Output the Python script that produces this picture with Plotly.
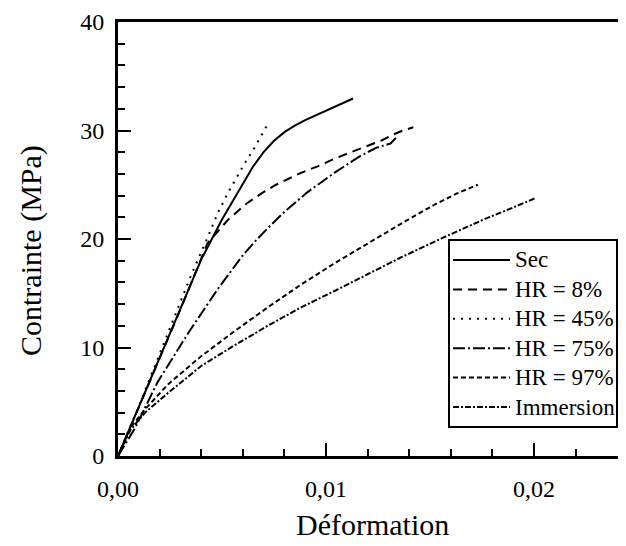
import plotly.graph_objects as go

# Courbes contrainte-déformation
sec_x = [0, 0.001, 0.002, 0.003, 0.004, 0.005, 0.006, 0.0065, 0.007, 0.0075, 0.008, 0.0085, 0.009, 0.0095, 0.01, 0.0105, 0.011, 0.0113]
sec_y = [0, 4.5, 9.1, 13.6, 18.1, 21.8, 25.1, 26.7, 28.0, 29.05, 29.85, 30.45, 30.95, 31.4, 31.8, 32.25, 32.7, 32.95]

hr8_x = [0, 0.001, 0.002, 0.003, 0.0043, 0.0053, 0.0062, 0.0069, 0.0076, 0.0088, 0.0096, 0.0104, 0.0112, 0.012, 0.0127, 0.0132, 0.0137, 0.0142]
hr8_y = [0, 4.5, 9.0, 13.5, 19.6, 21.8, 23.3, 24.2, 25.0, 26.1, 26.7, 27.4, 28.0, 28.6, 29.1, 29.6, 30.0, 30.3]

hr45_x = [0, 0.001, 0.002, 0.003, 0.0035, 0.0043, 0.0048, 0.0053, 0.0057, 0.0061, 0.0065, 0.0069, 0.0072]
hr45_y = [0, 4.6, 9.4, 14.2, 16.6, 20.1, 22.4, 24.3, 25.7, 27.0, 28.2, 29.5, 30.6]

hr75_x = [0, 0.0008, 0.0019, 0.0034, 0.0048, 0.006, 0.0066, 0.0072, 0.008, 0.0091, 0.0104, 0.0116, 0.0124, 0.0128, 0.0131, 0.0134]
hr75_y = [0, 2.5, 6.8, 11.4, 15.4, 18.5, 19.8, 21.0, 22.5, 24.3, 26.1, 27.6, 28.4, 28.6, 28.8, 29.4]

hr97_x = [0, 0.0006, 0.0013, 0.0024, 0.004, 0.0056, 0.0072, 0.0088, 0.0104, 0.012, 0.0136, 0.0152, 0.0163, 0.0173]
hr97_y = [0, 2.6, 4.3, 6.6, 9.2, 11.5, 13.7, 15.8, 17.75, 19.6, 21.4, 23.15, 24.2, 25.0]

imm_x = [0, 0.0006, 0.0013, 0.0024, 0.004, 0.0056, 0.0072, 0.0088, 0.0104, 0.012, 0.0136, 0.0156, 0.0177, 0.019, 0.0201]
imm_y = [0, 2.4, 4.0, 5.8, 8.3, 10.2, 12.0, 13.7, 15.2, 16.75, 18.3, 20.1, 21.9, 22.9, 23.8]

labels = ["Sec", "HR = 8%", "HR = 45%", "HR = 75%", "HR = 97%", "Immersion"]
dashes = ["solid", "9px,6px", "2px,6px", "12px,3px,2px,3px", "5px,3px", "6px,2px,2px,2px"]
x_ticks = [0, 0.01, 0.02]
x_ticktext = ["0,00", "0,01", "0,02"]
y_ticks = [0, 10, 20, 30, 40]

series = [(sec_x, sec_y), (hr8_x, hr8_y), (hr45_x, hr45_y),
          (hr75_x, hr75_y), (hr97_x, hr97_y), (imm_x, imm_y)]

FONT = "Liberation Serif"

fig = go.Figure()
for (xs, ys), name, d in zip(series, labels, dashes):
    fig.add_trace(go.Scatter(x=xs, y=ys, mode="lines", name=name, showlegend=False,
                             line=dict(color="black", width=2, dash=d)))

# la page html ajoute une marge de 8 px autour de la figure
W, H = 610, 538
L, T, R, B = 110, 14, 0, 90
pw, ph = W - L - R, H - T - B
PL, PB = 118, 456  # bord gauche / bas du tracé, en pixels de la page
px = lambda x: (x - PL) / pw
py = lambda y: (PB - y) / ph

# légende dessinée à la main (échantillons de trait plus longs que ceux de plotly)
fig.add_shape(type="rect", xref="paper", yref="paper",
              x0=px(449), x1=px(617), y0=py(427), y1=py(240),
              line=dict(color="black", width=2), fillcolor="white", layer="above")
for i, (name, d) in enumerate(zip(labels, dashes)):
    yy = 260 + i * 29.4
    fig.add_shape(type="line", xref="paper", yref="paper",
                  x0=px(453), x1=px(510), y0=py(yy), y1=py(yy),
                  line=dict(color="black", width=2, dash=d), layer="above")
    fig.add_annotation(xref="paper", yref="paper", x=px(513), y=py(yy),
                       xanchor="left", yanchor="middle", text=name, showarrow=False,
                       font=dict(family=FONT, size=23, color="black"))

# titres des axes
fig.add_annotation(xref="paper", yref="paper", x=px(372), y=py(524),
                   xanchor="center", yanchor="middle", text="Déformation", showarrow=False,
                   font=dict(family=FONT, size=30, color="black"))
fig.add_annotation(xref="paper", yref="paper", x=px(31), y=py(251), textangle=-90,
                   xanchor="center", yanchor="middle", text="Contrainte (MPa)", showarrow=False,
                   font=dict(family=FONT, size=30, color="black"))

fig.update_layout(
    width=W, height=H,
    margin=dict(l=L, r=R, t=T, b=B, autoexpand=False),
    paper_bgcolor="white", plot_bgcolor="white",
    font=dict(family=FONT, color="black"),
    separators=", ",
)
fig.update_xaxes(
    range=[0, pw / 20800], tickvals=x_ticks, ticktext=x_ticktext,
    ticks="inside", ticklen=13, tickwidth=2, tickcolor="black",
    minor=dict(dtick=0.002, ticks="inside", ticklen=7, tickwidth=2, tickcolor="black", showgrid=False),
    showline=True, linewidth=3, linecolor="black", mirror=True,
    showgrid=False, zeroline=False, automargin=False,
    tickfont=dict(family=FONT, size=24), ticklabelstandoff=9,
)
fig.update_yaxes(
    range=[0, 40], tickvals=y_ticks,
    ticks="inside", ticklen=13, tickwidth=2, tickcolor="black",
    minor=dict(dtick=2, ticks="inside", ticklen=7, tickwidth=2, tickcolor="black", showgrid=False),
    showline=True, linewidth=3, linecolor="black",
    showgrid=False, zeroline=False, automargin=False,
    tickfont=dict(family=FONT, size=24), ticklabelstandoff=6,
)

fig.write_html("out.html")
